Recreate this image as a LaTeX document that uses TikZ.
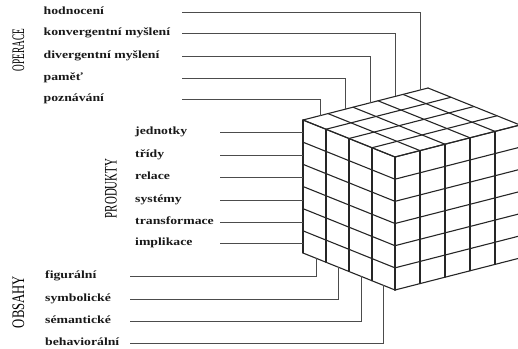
\documentclass[tikz,border=0pt]{standalone}
\usepackage{fontspec}
\setmainfont{Liberation Serif}
\usepackage{graphicx}
\newcommand\hs[1]{\scalebox{1.25}[1]{#1}}
\begin{document}
\begin{tikzpicture}[x=1pt,y=-1pt,
  lab/.style={anchor=mid west, inner sep=0pt, font=\bfseries\fontsize{11}{13}\selectfont, text=black!90},
  rotlab/.style={rotate=90, inner sep=0pt, font=\fontsize{11}{13}\selectfont, text=black},
  lead/.style={line width=0.8pt, draw=black!70},
  cubeline/.style={line width=1.1pt, draw=black!85, line cap=round}]
\useasboundingbox (0,0) rectangle (518,348);
\clip (0,0) rectangle (518,348);

% ---- cube ----
\foreach \i in {0,...,4} \draw[cubeline] ({303+23*\i},{120+9.25*\i}) -- ++(0,133);
\foreach \j in {0,...,6} \draw[cubeline] (303,{120+133*\j/6}) -- ++(92,37);
\foreach \i in {0,...,5} \draw[cubeline] ({395+25*\i},{157-6.4*\i}) -- ++(0,133);
\foreach \j in {0,...,6} \draw[cubeline] (395,{157+133*\j/6}) -- ++(125,-32);
\foreach \i in {0,...,4} \draw[cubeline] ({303+23*\i},{120+9.25*\i}) -- ++(125,-32);
\foreach \k in {0,...,5} \draw[cubeline] ({303+25*\k},{120-6.4*\k}) -- ++(92,37);

% ---- group titles ----
\node[rotlab] (operace) at (18.3,50) {\scalebox{0.84}[1.6]{OPERACE}};
\node[rotlab] (produkty) at (111,188.5) {\scalebox{0.99}[1.6]{PRODUKTY}};
\node[rotlab] (obsahy) at (18.3,302) {\scalebox{1.15}[1.6]{OBSAHY}};

% ---- operace ----
\foreach \n/\t/\y/\x in {1/hodnocení/12/420, 2/konvergentní myšlení/33/395,
    3/divergentní myšlení/56/370, 4/paměť/78/345, 5/poznávání/99/320} {
  \node[lab] (op\n) at (43.5,\y) {\hs{\t}};
  \coordinate (op\n s) at (182,\y);
  \coordinate (op\n e) at (\x,{120-(\x-303)*32/125});
  \draw[lead] (op\n s) -| (op\n e);
}

% ---- produkty ----
\foreach \n/\t/\y in {1/jednotky/132, 2/třídy/155, 3/relace/177,
    4/systémy/200, 5/transformace/222, 6/implikace/243} {
  \node[lab] (pr\n) at (135,\y) {\hs{\t}};
  \coordinate (pr\n s) at (220,\y);
  \coordinate (pr\n e) at (303,\y);
  \draw[lead] (pr\n s) -- (pr\n e);
}

% ---- obsahy ----
\foreach \n/\t/\y/\x in {1/figurální/276/316, 2/symbolické/299/338,
    3/sémantické/321/361, 4/behaviorální/343/383} {
  \node[lab] (ob\n) at (45,\y) {\hs{\t}};
  \coordinate (ob\n s) at (130,\y);
  \coordinate (ob\n e) at (\x,{253+(\x-303)*37/92});
  \draw[lead] (ob\n s) -| (ob\n e);
}
\end{tikzpicture}
\end{document}
